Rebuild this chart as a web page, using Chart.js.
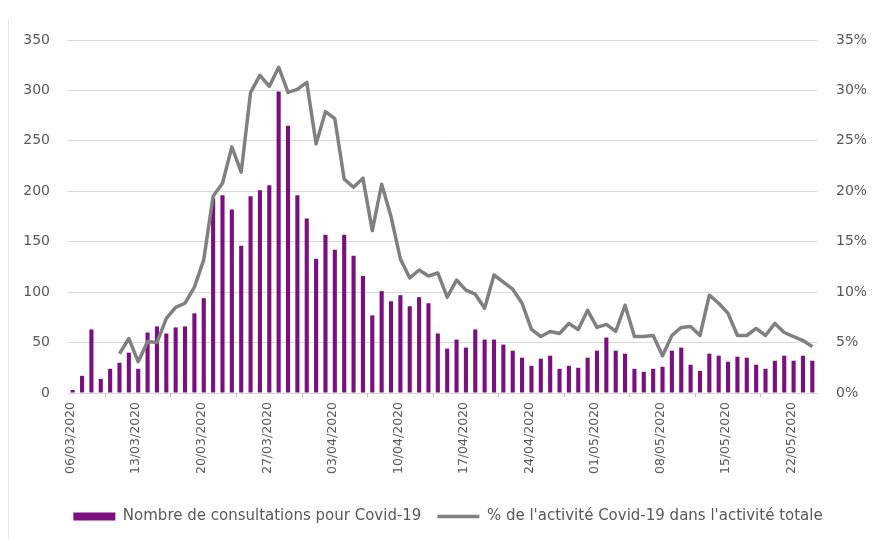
<!DOCTYPE html>
<html lang="fr">
<head>
<meta charset="utf-8">
<title>Consultations Covid-19</title>
<script src="https://cdn.jsdelivr.net/npm/chart.js@4.4.1/dist/chart.umd.min.js"></script>
<style>
    html, body { margin: 0; padding: 0; background: #ffffff; }
    #wrap { position: relative; width: 872px; height: 539px; }
    #frame { position: absolute; left: 8px; top: 20px; bottom: 0; border-left: 1px solid #e4e4e4; }
    canvas { display: block; }
</style>
</head>
<body>
<div id="wrap">
    <div id="frame"></div>
    <canvas id="covidChart" width="872" height="539"></canvas>
</div>
<script>
// jours (06/03/2020 -> 24/05/2020)
const dates = [
    '06/03/2020', '07/03/2020', '08/03/2020', '09/03/2020', '10/03/2020', '11/03/2020', '12/03/2020',
    '13/03/2020', '14/03/2020', '15/03/2020', '16/03/2020', '17/03/2020', '18/03/2020', '19/03/2020',
    '20/03/2020', '21/03/2020', '22/03/2020', '23/03/2020', '24/03/2020', '25/03/2020', '26/03/2020',
    '27/03/2020', '28/03/2020', '29/03/2020', '30/03/2020', '31/03/2020', '01/04/2020', '02/04/2020',
    '03/04/2020', '04/04/2020', '05/04/2020', '06/04/2020', '07/04/2020', '08/04/2020', '09/04/2020',
    '10/04/2020', '11/04/2020', '12/04/2020', '13/04/2020', '14/04/2020', '15/04/2020', '16/04/2020',
    '17/04/2020', '18/04/2020', '19/04/2020', '20/04/2020', '21/04/2020', '22/04/2020', '23/04/2020',
    '24/04/2020', '25/04/2020', '26/04/2020', '27/04/2020', '28/04/2020', '29/04/2020', '30/04/2020',
    '01/05/2020', '02/05/2020', '03/05/2020', '04/05/2020', '05/05/2020', '06/05/2020', '07/05/2020',
    '08/05/2020', '09/05/2020', '10/05/2020', '11/05/2020', '12/05/2020', '13/05/2020', '14/05/2020',
    '15/05/2020', '16/05/2020', '17/05/2020', '18/05/2020', '19/05/2020', '20/05/2020', '21/05/2020',
    '22/05/2020', '23/05/2020', '24/05/2020'
];

// nombre de consultations (axe gauche)
const consultations = [
    3, 17, 63, 14, 24, 30, 40,
    24, 60, 66, 59, 65, 66, 79,
    94, 193, 196, 182, 146, 195, 201,
    206, 299, 265, 196, 173, 133, 157,
    142, 157, 136, 116, 77, 101, 91,
    97, 86, 95, 89, 59, 44, 53,
    45, 63, 53, 53, 48, 42, 35,
    27, 34, 37, 24, 27, 25, 35,
    42, 55, 42, 39, 24, 21, 24,
    26, 42, 45, 28, 22, 39, 37,
    31, 36, 35, 28, 24, 32, 37,
    32, 37, 32
];

// part de l'activité Covid-19 en % (axe droit)
const partActivite = [
    null, null, null, null, null, 3.9, 5.4,
    3.1, 5.1, 5.0, 7.4, 8.5, 8.9, 10.5,
    13.2, 19.5, 20.8, 24.4, 21.9, 29.8, 31.5,
    30.4, 32.3, 29.8, 30.1, 30.8, 24.7, 27.9,
    27.2, 21.2, 20.4, 21.3, 16.1, 20.7, 17.5,
    13.3, 11.4, 12.2, 11.6, 11.9, 9.5, 11.2,
    10.2, 9.8, 8.4, 11.7, 11.0, 10.3, 8.9,
    6.3, 5.6, 6.1, 5.9, 6.9, 6.3, 8.2,
    6.5, 6.8, 6.1, 8.7, 5.6, 5.6, 5.7,
    3.7, 5.7, 6.5, 6.6, 5.7, 9.7, 8.9,
    7.9, 5.7, 5.7, 6.4, 5.7, 6.9, 6.0,
    5.6, 5.2, 4.6
];

const leftTicks = [0, 50, 100, 150, 200, 250, 300, 350];
const rightTicks = [0, 5, 10, 15, 20, 25, 30, 35];

const textColor = '#595959';
const gridColor = '#d9d9d9';

document.addEventListener('DOMContentLoaded', () => {
    const ctx = document.getElementById('covidChart').getContext('2d');

    new Chart(ctx, {
        data: {
            labels: dates,
            datasets: [{
                // index 0 : dessinée au-dessus des barres
                type: 'line',
                label: "% de l'activité Covid-19 dans l'activité totale",
                data: partActivite,
                yAxisID: 'y2',
                borderColor: '#808080',
                backgroundColor: '#808080',
                borderWidth: 3.5,
                pointRadius: 0,
                pointStyle: 'line',
                tension: 0,
                borderJoinStyle: 'round'
            }, {
                type: 'bar',
                label: 'Nombre de consultations pour Covid-19',
                data: consultations,
                yAxisID: 'y',
                backgroundColor: '#7a1080',
                borderWidth: 0,
                pointStyle: 'rect',
                categoryPercentage: 1,
                barPercentage: 0.44
            }]
        },
        options: {
            responsive: false,
            animation: false,
            layout: { padding: { top: 40, right: 0, bottom: 5, left: 24 } },
            plugins: {
                tooltip: { enabled: false },
                legend: {
                    position: 'bottom',
                    labels: {
                        usePointStyle: true,
                        pointStyleWidth: 42,
                        boxHeight: 8,
                        padding: 16,
                        color: textColor,
                        font: { family: 'DejaVu Sans', size: 15 },
                        // barres d'abord dans la légende
                        sort: (a, b) => b.datasetIndex - a.datasetIndex
                    }
                }
            },
            scales: {
                x: {
                    offset: true,
                    grid: {
                        offset: true,
                        drawOnChartArea: false,
                        drawTicks: true,
                        tickLength: 4,
                        color: '#bfbfbf'
                    },
                    border: { display: true, color: gridColor },
                    ticks: {
                        autoSkip: false,
                        minRotation: 90,
                        maxRotation: 90,
                        padding: 5,
                        labelOffset: -2,
                        color: textColor,
                        font: { family: 'DejaVu Sans', size: 12.5 },
                        // une étiquette par semaine
                        callback: function (value, index) {
                            return index % 7 === 0 ? dates[index] : null;
                        }
                    },
                    afterFit: (scale) => { scale.height = 100; }
                },
                y: {
                    position: 'left',
                    min: leftTicks[0],
                    max: leftTicks[leftTicks.length - 1],
                    afterBuildTicks: (scale) => { scale.ticks = leftTicks.map(v => ({ value: v })); },
                    grid: { color: gridColor, drawTicks: false },
                    border: { display: false },
                    ticks: {
                        padding: 18,
                        color: textColor,
                        font: { family: 'DejaVu Sans', size: 14 }
                    },
                    afterFit: (scale) => { scale.width = 44; }
                },
                y2: {
                    position: 'right',
                    min: rightTicks[0],
                    max: rightTicks[rightTicks.length - 1],
                    afterBuildTicks: (scale) => { scale.ticks = rightTicks.map(v => ({ value: v })); },
                    grid: { drawOnChartArea: false, drawTicks: false },
                    border: { display: false },
                    ticks: {
                        padding: 19,
                        color: textColor,
                        font: { family: 'DejaVu Sans', size: 14 },
                        callback: (value) => value + '%'
                    },
                    afterFit: (scale) => { scale.width = 55; }
                }
            }
        }
    });
});
</script>
</body>
</html>
